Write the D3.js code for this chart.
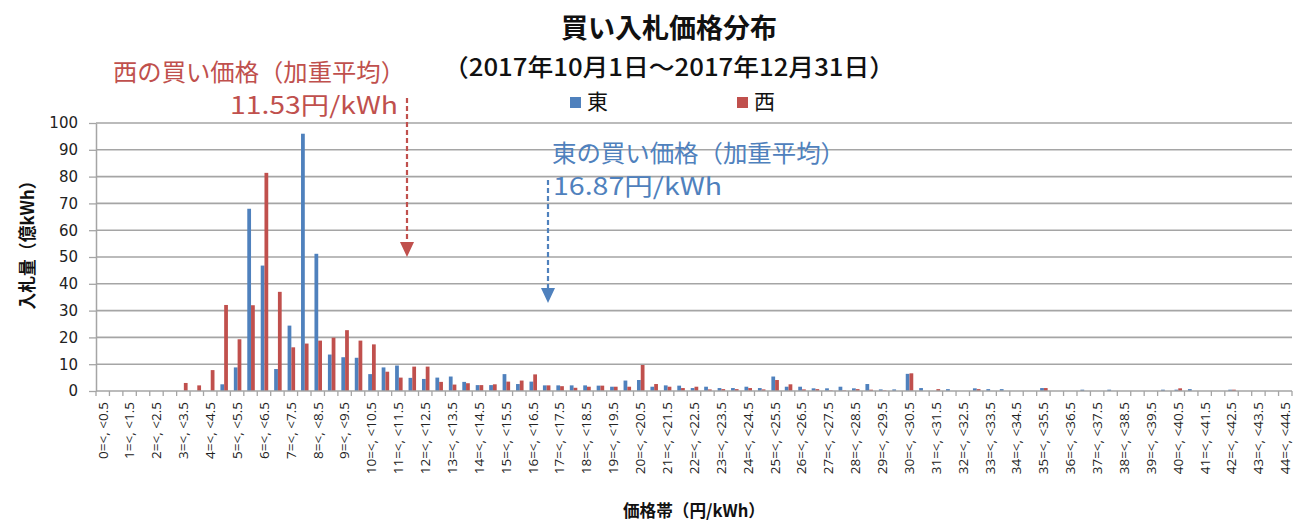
<!DOCTYPE html>
<html><head><meta charset="utf-8">
<script src="https://cdn.jsdelivr.net/npm/d3@7"></script>
<style>body{margin:0;background:#fff}svg{display:block}</style>
</head><body>
<svg id="chart" width="1301" height="522"></svg>
<script>
// ---- data ----
const lowerBounds = d3.range(0, 89).map(i => i * 0.5);   // category lower bounds 0 … 44
const categories = lowerBounds.map(lo => `${lo}=<, <${+(lo + 0.5).toFixed(1)}`);
const seriesNames = ["東", "西"];
const east = [0,0,0,0,0,0,0,0,0,2.5, 8.8,68,46.8,8.2,24.4,96,51.2,13.6,12.6,12.4,
  6.3,8.8,9.5,4.9,4.5,5.0,5.4,3.4,2.2,2.2, 6.3,2.6,3.5,2.1,2.1,2.1,2.1,2.0,1.6,3.9,
  4.1,1.6,2.1,2.0,1.1,1.6,1.1,1.1,1.6,1.1, 5.4,1.6,1.6,1.0,1.0,1.6,1.0,2.6,0.6,0.6,
  6.4,1.1,0,0.7,0,1.0,0.7,0.7,0,0, 1.1,0,0,0.5,0,0.5,0,0,0,0.5, 0.5,0.7,0,0,0.5,0,0,0,0];
const west = [0,0,0,0,0,0,3.0,2.1,7.8,32.1, 19.3,32,81.4,37,16.3,17.7,18.8,19.9,22.7,18.8,
  17.4,7.2,5.0,9.1,9.1,3.4,2.4,2.9,2.2,2.5, 3.5,3.9,6.2,2.1,1.8,1.2,1.6,2.0,1.6,1.6,
  9.7,2.6,1.6,1.1,1.6,0.6,0.7,0.7,1.1,0.6, 4.1,2.5,0.6,0.7,0.2,0.2,0.7,0.5,0.2,0,
  6.6,0,0.7,0,0,0.7,0,0,0,0, 1.1,0,0,0,0,0,0,0,0,0, 1.0,0,0,0,0.5,0,0,0,0];
const yTicks = [0,10,20,30,40,50,60,70,80,90,100];
const titleText = "買い入札価格分布";
const subtitleText = "（2017年10月1日～2017年12月31日）";
const yTitle = "入札量（億kWh）";
const xTitle = "価格帯（円/kWh）";
const westAvg = {label1: "西の買い価格（加重平均）", label2: "11.53円/kWh"};
const eastAvg = {label1: "東の買い価格（加重平均）", label2: "16.87円/kWh"};

// ---- layout ----
const colors = {"東": "#4f81bd", "西": "#c0504d"};
const L = 96, R = 1292, T = 123, B = 391;
const svg = d3.select("#chart");
const jp = "'Noto Sans CJK JP','Noto Sans',sans-serif";
const latin = "'DejaVu Sans',Verdana,sans-serif";

const x0 = d3.scaleBand().domain(categories).range([L, R]).paddingInner(0.44).paddingOuter(0.22);
const x1 = d3.scaleBand().domain(seriesNames).range([0, x0.bandwidth()]).padding(0);
const y = d3.scaleLinear().domain([0, 100]).range([B, T]);

// gridlines
svg.append("g").selectAll("line").data(yTicks.filter(d => d > 0)).join("line")
  .attr("x1", L).attr("x2", R).attr("y1", d => y(d)).attr("y2", d => y(d))
  .attr("stroke", "#a5a5a5").attr("stroke-width", 1.6);

// bars
const rows = categories.map((c, i) => ({c, vals: [{s: "東", v: east[i]}, {s: "西", v: west[i]}]}));
const g = svg.append("g");
g.selectAll("g").data(rows).join("g")
  .attr("transform", d => `translate(${x0(d.c) + 0.5},0)`)
  .selectAll("rect").data(d => d.vals).join("rect")
  .attr("x", d => x1(d.s)).attr("width", x1.bandwidth())
  .attr("y", d => y(d.v)).attr("height", d => B - y(d.v))
  .attr("fill", d => colors[d.s]);

// y axis
const yAxis = svg.append("g").attr("transform", `translate(${L},0)`)
  .call(d3.axisLeft(y).tickValues(yTicks).tickSize(7).tickPadding(11).tickSizeOuter(0));
yAxis.select(".domain").attr("stroke", "#a5a5a5").attr("stroke-width", 1.5);
yAxis.selectAll(".tick line").attr("stroke", "#a5a5a5").attr("stroke-width", 1.3);
yAxis.selectAll("text").attr("font-family", latin).attr("font-size", 15).attr("fill", "#222");

// x axis baseline + ticks between categories
svg.append("line").attr("x1", L).attr("x2", R).attr("y1", B).attr("y2", B)
  .attr("stroke", "#a5a5a5").attr("stroke-width", 1.6);
const step = x0.step();
const boundaries = categories.map(c => x0(c) + x0.bandwidth() / 2 - step / 2).concat([R]);
svg.append("g").selectAll("line").data(boundaries).join("line")
  .attr("x1", d => d).attr("x2", d => d).attr("y1", B).attr("y2", B + 5)
  .attr("stroke", "#a5a5a5").attr("stroke-width", 1.3);

const xAxis = svg.append("g").attr("transform", `translate(0,${B})`)
  .call(d3.axisBottom(x0).tickValues(categories.filter((c, i) => i % 2 === 0)).tickSize(0));
xAxis.select(".domain").remove();
xAxis.selectAll("text")
  .attr("transform", "rotate(-90)").attr("text-anchor", "end")
  .attr("x", -11).attr("y", 0).attr("dy", "0.36em")
  .attr("font-family", "'Open Sans',sans-serif").attr("font-size", 13.5).attr("fill", "#222");

// titles
svg.append("text").attr("x", 669).attr("y", 38).attr("text-anchor", "middle")
  .attr("font-family", jp).attr("font-weight", 700).attr("font-size", 27).attr("fill", "#111")
  .text(titleText);
svg.append("text").attr("x", 669).attr("y", 76).attr("text-anchor", "middle")
  .attr("font-family", jp).attr("font-weight", 500).attr("font-size", 24).attr("fill", "#111")
  .attr("textLength", 452).attr("lengthAdjust", "spacingAndGlyphs")
  .text(subtitleText);

// legend
const leg = svg.append("g");
[{s: "東", x: 570}, {s: "西", x: 737}].forEach(d => {
  leg.append("rect").attr("x", d.x).attr("y", 97).attr("width", 11).attr("height", 11).attr("fill", colors[d.s]);
  leg.append("text").attr("x", d.x + 17).attr("y", 109).attr("font-family", jp)
    .attr("font-size", 21).attr("fill", "#111").text(d.s);
});

// axis titles
svg.append("text").attr("transform", "translate(28,241) rotate(-90)").attr("text-anchor", "middle")
  .attr("dy", "0.35em")
  .attr("font-family", jp).attr("font-weight", 700).attr("font-size", 18).attr("fill", "#111")
  .attr("textLength", 137).attr("lengthAdjust", "spacingAndGlyphs")
  .text(yTitle);
svg.append("text").attr("x", 694).attr("y", 517).attr("text-anchor", "middle")
  .attr("font-family", jp).attr("font-weight", 700).attr("font-size", 17).attr("fill", "#111")
  .attr("textLength", 142).attr("lengthAdjust", "spacingAndGlyphs")
  .text(xTitle);

// annotations
function annot(a, col, x1t, w1, b1, x2t, w2, b2, ax, ay0, ay1) {
  svg.append("text").attr("x", x1t).attr("y", b1).attr("font-family", jp).attr("font-size", 24)
    .attr("fill", col).attr("textLength", w1).attr("lengthAdjust", "spacingAndGlyphs").text(a.label1);
  svg.append("text").attr("x", x2t).attr("y", b2).attr("font-family", jp).attr("font-size", 24)
    .attr("fill", col).attr("textLength", w2).attr("lengthAdjust", "spacingAndGlyphs").text(a.label2);
  svg.append("line").attr("x1", ax).attr("x2", ax).attr("y1", ay0).attr("y2", ay1 - 12)
    .attr("stroke", col).attr("stroke-width", 2.2).attr("stroke-dasharray", "5,3");
  svg.append("path").attr("d", `M${ax - 7},${ay1 - 15}L${ax + 7},${ay1 - 15}L${ax},${ay1}Z`).attr("fill", col);
}
annot(westAvg, colors["西"], 113, 292, 81, 230, 168, 114, 407, 98, 257);
annot(eastAvg, colors["東"], 552, 293, 162, 553, 169, 195, 548, 180, 303);
</script>
</body></html>
